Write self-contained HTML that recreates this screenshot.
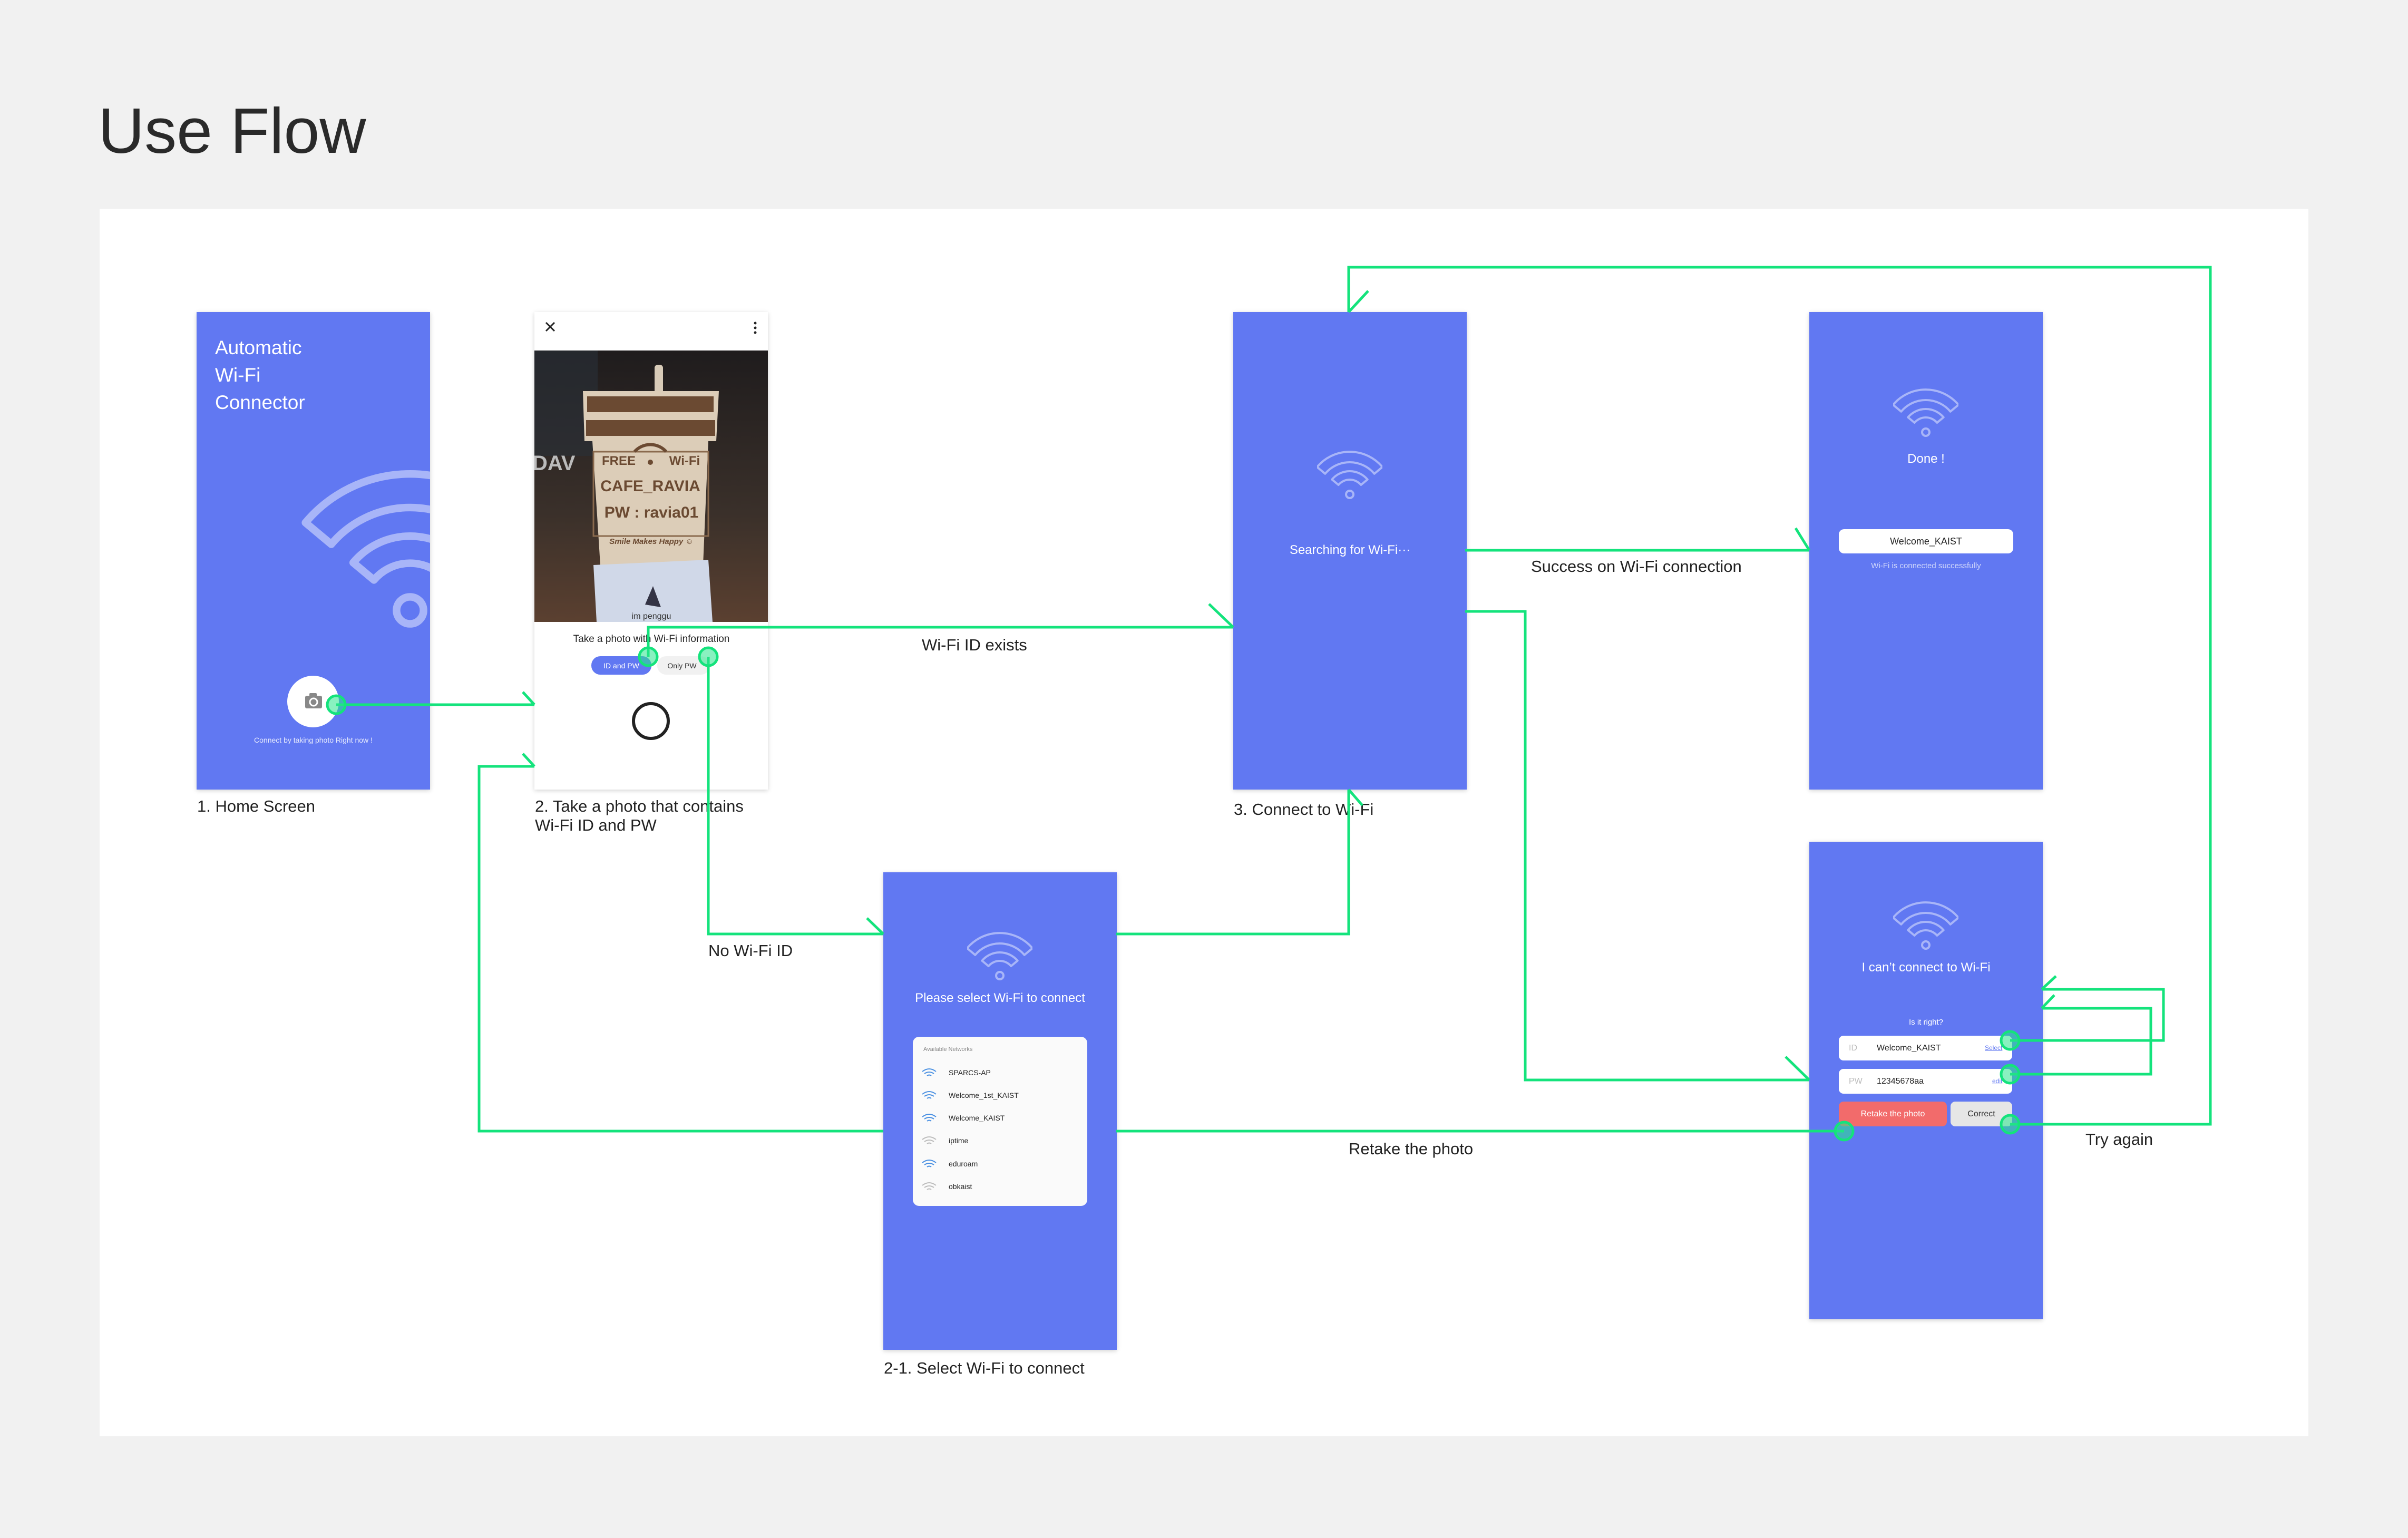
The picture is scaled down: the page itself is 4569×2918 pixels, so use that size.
<!DOCTYPE html>
<html><head><meta charset="utf-8">
<style>
*{margin:0;padding:0;box-sizing:border-box}
body{width:4569px;height:2918px;background:#f1f1f1;position:relative;overflow:hidden;font-family:"Liberation Sans","DejaVu Sans",sans-serif}
.abs{position:absolute}
.panel{left:189px;top:396px;width:4191px;height:2329px;background:#fff}
.scr{position:absolute;width:443px;height:906px;background:#6178f2;box-shadow:0 2px 8px rgba(0,0,0,0.18);overflow:hidden}
.lbl{position:absolute;font-size:31px;color:#222;line-height:36px}
.ctr{position:absolute;left:0;width:100%;text-align:center}
.wt{color:#fff}
</style></head><body>
<div class="abs" style="left:186px;top:176px;font-size:122px;color:#2a2a2a;line-height:145px">Use Flow</div>
<div class="abs panel"></div>

<!-- Screen 1 -->
<div class="scr" style="left:373px;top:592px">
  <div class="abs wt" style="left:35px;top:42px;font-size:37px;line-height:52px">Automatic<br>Wi-Fi<br>Connector</div>
  <svg class="abs" style="left:0;top:0" width="443" height="906">
    <g transform="translate(405,566) scale(3.2) translate(-62,-88)" fill="none" stroke="rgba(255,255,255,0.45)" stroke-width="4.5" stroke-linejoin="round">
      <path d="M0,36 A81,81 0 0 1 124,36 L108.7,48.8 A61,61 0 0 0 15.3,48.8 Z"/>
      <path d="M28.3,59.7 A44,44 0 0 1 95.7,59.7 L83.4,70 A28,28 0 0 0 40.6,70 Z"/>
      <circle cx="62" cy="88" r="8"/>
    </g>
    <circle cx="221" cy="739" r="49" fill="#fff"/>
    <rect x="206" y="728" width="32" height="24" rx="3" fill="#888"/>
    <rect x="214" y="723" width="14" height="7" rx="2" fill="#888"/>
    <circle cx="222" cy="740" r="7" fill="none" stroke="#fff" stroke-width="3"/>
  </svg>
  <div class="ctr" style="top:804px;font-size:14px;color:rgba(255,255,255,0.85)">Connect by taking photo Right now !</div>
</div>
<div class="lbl" style="left:374px;top:1512px">1. Home Screen</div>

<!-- Screen 2 -->
<div class="scr" style="left:1014px;top:592px;background:#fff">
  <svg class="abs" style="left:0;top:0" width="443" height="906">
    <path d="M22,20 L38,36 M38,20 L22,36" stroke="#222" stroke-width="3"/>
    <circle cx="419" cy="21" r="2.5" fill="#222"/><circle cx="419" cy="30" r="2.5" fill="#222"/><circle cx="419" cy="39" r="2.5" fill="#222"/>
    <defs><linearGradient id="bg" x1="0" y1="0" x2="0" y2="1"><stop offset="0" stop-color="#1f1c1d"/><stop offset="0.6" stop-color="#3a302a"/><stop offset="1" stop-color="#5b4030"/></linearGradient></defs>
    <rect x="0" y="73" width="443" height="515" fill="url(#bg)"/>
    <rect x="0" y="73" width="120" height="200" fill="#2a3038" opacity="0.6"/>
    <text x="-4" y="300" font-size="40" fill="#bbb" font-weight="bold">DAV</text>
    <rect x="228" y="100" width="16" height="60" rx="6" fill="#d8cbb8"/>
    <path d="M92,150 L350,150 L345,245 L330,245 L320,480 L125,480 L110,245 L95,245 Z" fill="#dccdb8"/>
    <rect x="100" y="160" width="240" height="30" fill="#6b4a32"/>
    <rect x="98" y="205" width="245" height="30" fill="#6b4a32"/>
    <rect x="112" y="265" width="218" height="160" fill="none" stroke="#8a6a4e" stroke-width="3"/>
    <g fill="#6b4a32" font-weight="bold" text-anchor="middle">
      <text x="160" y="290" font-size="24">FREE</text>
      <text x="285" y="290" font-size="24">Wi-Fi</text>
      <text x="220" y="340" font-size="30">CAFE_RAVIA</text>
      <text x="222" y="390" font-size="30">PW : ravia01</text>
      <text x="222" y="440" font-size="15" font-style="italic">Smile Makes Happy ☺</text>
    </g>
    <path d="M190,265 A40,40 0 0 1 250,265" stroke="#6b4a32" stroke-width="6" fill="none"/>
    <circle cx="220" cy="285" r="5" fill="#6b4a32"/>
    <path d="M112,480 L330,470 L338,588 L118,588 Z" fill="#d0d8e8"/>
    <text x="222" y="582" font-size="16" fill="#333" text-anchor="middle">im penggu</text>
    <path d="M225,520 L240,560 L210,555 Z" fill="#334"/>
    <text x="222" y="626" font-size="19" fill="#222" text-anchor="middle">Take a photo with Wi-Fi information</text>
    <rect x="108" y="653" width="114" height="35" rx="17" fill="#6178f2"/>
    <text x="165" y="676" font-size="14" fill="#fff" text-anchor="middle">ID and PW</text>
    <rect x="233" y="653" width="100" height="35" rx="17" fill="#f1f1f1"/>
    <text x="280" y="676" font-size="14" fill="#333" text-anchor="middle">Only PW</text>
    <circle cx="221" cy="776" r="33" fill="none" stroke="#222" stroke-width="6"/>
  </svg>
</div>
<div class="lbl" style="left:1015px;top:1512px">2. Take a photo that contains<br>Wi-Fi ID and PW</div>

<!-- Screen 3 -->
<div class="scr" style="left:2340px;top:592px">
  <svg class="abs" style="left:159px;top:258px" width="124" height="100" viewBox="0 0 124 100"><g fill="none" stroke="rgba(255,255,255,0.45)" stroke-width="4" stroke-linejoin="round"><path d="M0,36 A81,81 0 0 1 124,36 L108.7,48.8 A61,61 0 0 0 15.3,48.8 Z"/><path d="M28.3,59.7 A44,44 0 0 1 95.7,59.7 L83.4,70 A28,28 0 0 0 40.6,70 Z"/><circle cx="62" cy="88" r="7"/></g></svg>
  <div class="ctr wt" style="top:438px;font-size:24px">Searching for Wi-Fi···</div>
</div>
<div class="lbl" style="left:2341px;top:1518px">3. Connect to Wi-Fi</div>

<!-- Done screen -->
<div class="scr" style="left:3433px;top:592px">
  <svg class="abs" style="left:159px;top:140px" width="124" height="100" viewBox="0 0 124 100"><g fill="none" stroke="rgba(255,255,255,0.45)" stroke-width="4" stroke-linejoin="round"><path d="M0,36 A81,81 0 0 1 124,36 L108.7,48.8 A61,61 0 0 0 15.3,48.8 Z"/><path d="M28.3,59.7 A44,44 0 0 1 95.7,59.7 L83.4,70 A28,28 0 0 0 40.6,70 Z"/><circle cx="62" cy="88" r="7"/></g></svg>
  <div class="ctr wt" style="top:265px;font-size:24px">Done !</div>
  <div class="abs" style="left:56px;top:412px;width:331px;height:46px;background:#fff;border-radius:10px;text-align:center;font-size:18px;line-height:46px;color:#222">Welcome_KAIST</div>
  <div class="ctr" style="top:473px;font-size:15px;color:rgba(255,255,255,0.7)">Wi-Fi is connected successfully</div>
</div>

<!-- Screen 2-1 -->
<div class="scr" style="left:1676px;top:1655px">
  <svg class="abs" style="left:159px;top:108px" width="124" height="100" viewBox="0 0 124 100"><g fill="none" stroke="rgba(255,255,255,0.45)" stroke-width="4" stroke-linejoin="round"><path d="M0,36 A81,81 0 0 1 124,36 L108.7,48.8 A61,61 0 0 0 15.3,48.8 Z"/><path d="M28.3,59.7 A44,44 0 0 1 95.7,59.7 L83.4,70 A28,28 0 0 0 40.6,70 Z"/><circle cx="62" cy="88" r="7"/></g></svg>
  <div class="ctr wt" style="top:225px;font-size:24px">Please select Wi-Fi to connect</div>
  <div class="abs" style="left:56px;top:312px;width:331px;height:321px;background:#fafafa;border-radius:12px">
    <div class="abs" style="left:20px;top:18px;font-size:11px;color:#888">Available Networks</div>
    <svg class="abs" style="left:0;top:0" width="331" height="321">
      <g fill="none" stroke-width="2">
        <g stroke="#4a90e2"><path d="M18,66 Q31,56 44,66 M22,70 Q31,64 40,70 M27,74 Q31,71 35,74"/></g>
        <g stroke="#4a90e2"><path d="M18,109 Q31,99 44,109 M22,113 Q31,107 40,113 M27,117 Q31,114 35,117"/></g>
        <g stroke="#4a90e2"><path d="M18,152 Q31,142 44,152 M22,156 Q31,150 40,156 M27,160 Q31,157 35,160"/></g>
        <g stroke="#bbb"><path d="M18,195 Q31,185 44,195 M22,199 Q31,193 40,199 M27,203 Q31,200 35,203"/></g>
        <g stroke="#4a90e2"><path d="M18,239 Q31,229 44,239 M22,243 Q31,237 40,243 M27,247 Q31,244 35,247"/></g>
        <g stroke="#bbb"><path d="M18,282 Q31,272 44,282 M22,286 Q31,280 40,286 M27,290 Q31,287 35,290"/></g>
      </g>
    </svg>
    <div class="abs" style="left:68px;top:60px;font-size:14px;line-height:17px;color:#222">SPARCS-AP</div>
    <div class="abs" style="left:68px;top:103px;font-size:14px;line-height:17px;color:#222">Welcome_1st_KAIST</div>
    <div class="abs" style="left:68px;top:146px;font-size:14px;line-height:17px;color:#222">Welcome_KAIST</div>
    <div class="abs" style="left:68px;top:189px;font-size:14px;line-height:17px;color:#222">iptime</div>
    <div class="abs" style="left:68px;top:233px;font-size:14px;line-height:17px;color:#222">eduroam</div>
    <div class="abs" style="left:68px;top:276px;font-size:14px;line-height:17px;color:#222">obkaist</div>
  </div>
</div>
<div class="lbl" style="left:1677px;top:2578px">2-1. Select Wi-Fi to connect</div>

<!-- Fail screen -->
<div class="scr" style="left:3433px;top:1597px">
  <svg class="abs" style="left:159px;top:108px" width="124" height="100" viewBox="0 0 124 100"><g fill="none" stroke="rgba(255,255,255,0.45)" stroke-width="4" stroke-linejoin="round"><path d="M0,36 A81,81 0 0 1 124,36 L108.7,48.8 A61,61 0 0 0 15.3,48.8 Z"/><path d="M28.3,59.7 A44,44 0 0 1 95.7,59.7 L83.4,70 A28,28 0 0 0 40.6,70 Z"/><circle cx="62" cy="88" r="7"/></g></svg>
  <div class="ctr wt" style="top:225px;font-size:24px">I can’t connect to Wi-Fi</div>
  <div class="ctr wt" style="top:334px;font-size:15px">Is it right?</div>
  <div class="abs" style="left:56px;top:368px;width:329px;height:47px;background:#fff;border-radius:9px;font-size:16px;line-height:47px">
    <span class="abs" style="left:19px;color:#bbb">ID</span><span class="abs" style="left:72px;color:#222">Welcome_KAIST</span><span class="abs" style="left:277px;color:#6178f2;font-size:12px;text-decoration:underline">Select</span>
  </div>
  <div class="abs" style="left:56px;top:431px;width:329px;height:47px;background:#fff;border-radius:9px;font-size:16px;line-height:47px">
    <span class="abs" style="left:19px;color:#bbb">PW</span><span class="abs" style="left:72px;color:#222">12345678aa</span><span class="abs" style="left:291px;color:#6178f2;font-size:12px;text-decoration:underline">edit</span>
  </div>
  <div class="abs" style="left:56px;top:493px;width:205px;height:47px;background:#f26b6b;border-radius:9px;font-size:16px;line-height:47px;text-align:center;color:#fff">Retake the photo</div>
  <div class="abs" style="left:268px;top:493px;width:117px;height:47px;background:#e6e6e6;border-radius:9px;font-size:16px;line-height:47px;text-align:center;color:#333">Correct</div>
</div>

<!-- Connectors -->
<svg class="abs" style="left:0;top:0" width="4569" height="2918">
  <g fill="none" stroke="#14e37c" stroke-width="5">
    <path d="M638,1337 L1014,1337 M992,1313 L1014,1337"/>
    <path d="M3499,2146 L2118,2146 M1676,2146 L909,2146 L909,1454 L1014,1454 M992,1430 L1014,1454"/>
    <path d="M1230,1246 L1230,1190 L2340,1190 M2294,1146 L2340,1190"/>
    <path d="M1344,1246 L1344,1772 L1676,1772 M1645,1742 L1676,1772"/>
    <path d="M2118,1772 L2559,1772 L2559,1498 M2585,1528 L2559,1498"/>
    <path d="M2780,1044 L3433,1044 M3407,1002 L3433,1044"/>
    <path d="M2780,1160 L2894,1160 L2894,2049 L3433,2049 M3388,2005 L3433,2049"/>
    <path d="M3814,2133 L4194,2133 L4194,507 L2559,507 L2559,592 M2596,552 L2559,592"/>
    <path d="M3814,1974 L4105,1974 L4105,1877 L3874,1877 M3901,1852 L3874,1877"/>
    <path d="M3814,2038 L4081,2038 L4081,1913 L3874,1913 M3898,1888 L3874,1913"/>
  </g>
  <g fill="rgba(40,230,140,0.55)" stroke="#14e37c" stroke-width="5">
    <circle cx="638" cy="1337" r="17"/>
    <circle cx="1230" cy="1246" r="17"/>
    <circle cx="1344" cy="1246" r="17"/>
    <circle cx="3499" cy="2146" r="17"/>
    <circle cx="3814" cy="1974" r="17"/>
    <circle cx="3814" cy="2038" r="17"/>
    <circle cx="3814" cy="2133" r="17"/>
  </g>
</svg>

<div class="lbl" style="left:1749px;top:1206px">Wi-Fi ID exists</div>
<div class="lbl" style="left:2905px;top:1057px">Success on Wi-Fi connection</div>
<div class="lbl" style="left:1344px;top:1786px">No Wi-Fi ID</div>
<div class="lbl" style="left:2559px;top:2162px">Retake the photo</div>
<div class="lbl" style="left:3957px;top:2144px">Try again</div>
</body></html>
